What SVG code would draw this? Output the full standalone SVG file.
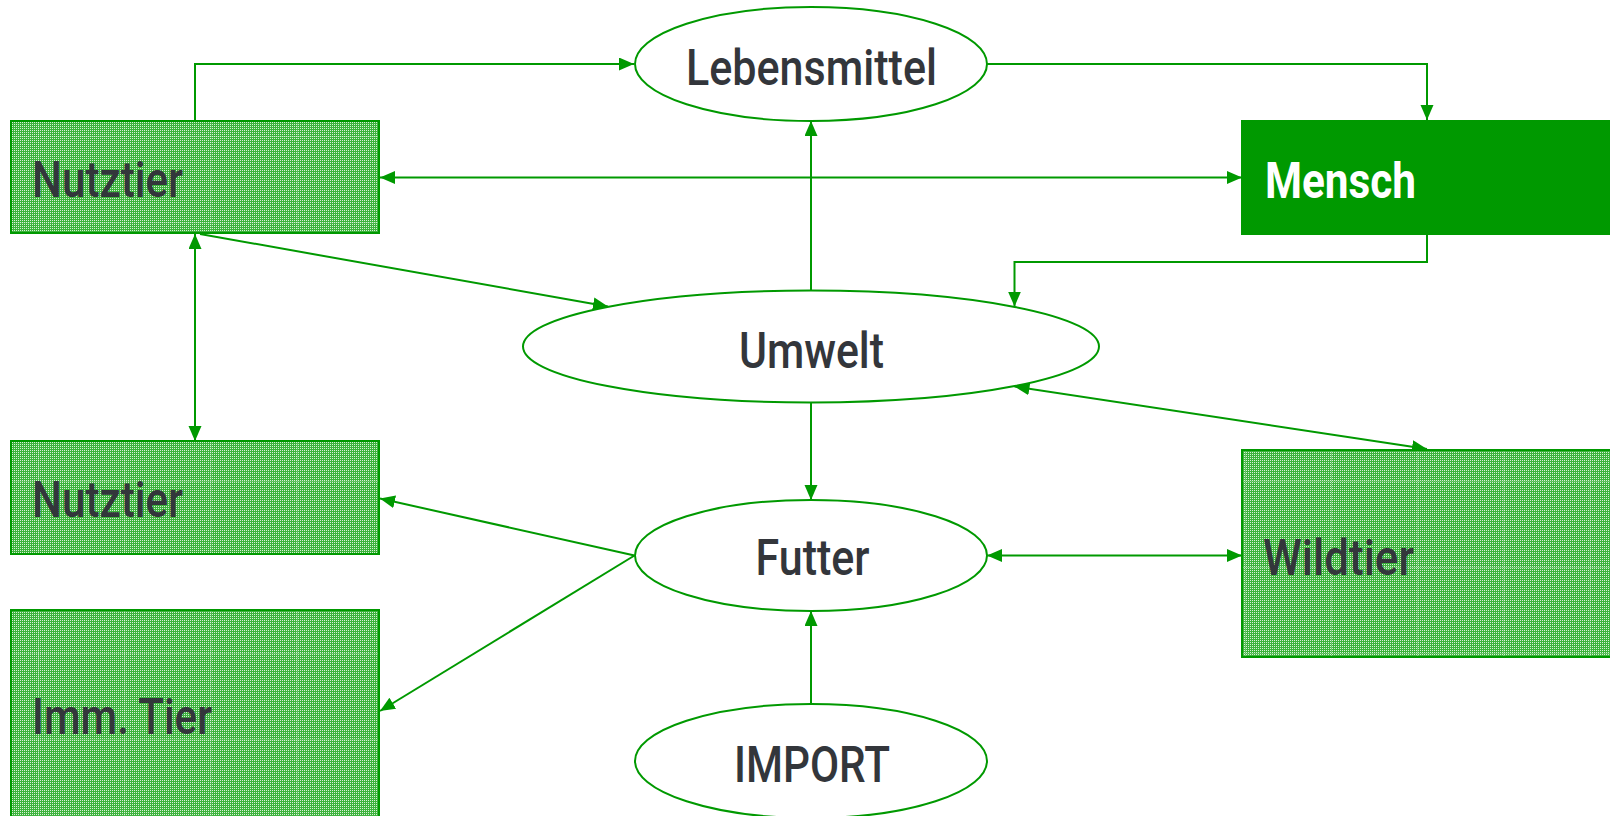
<svg xmlns="http://www.w3.org/2000/svg" width="1610" height="816" viewBox="0 0 1610 816">
  <style>
    .box { fill: url(#dots); stroke: #009900; stroke-width: 2; }
    .grid { fill: url(#seams); stroke: none; }
    .solid { fill: #009900; stroke: #009900; stroke-width: 2; }
    .oval { fill: #ffffff; stroke: #009900; stroke-width: 2; }
    .lbl { font-family: "Roboto", "Liberation Sans", sans-serif; font-size: 50px; font-weight: 500; fill: #33363b; }
    .mid { text-anchor: middle; }
    .light { fill: #ffffff; font-weight: 700; }
    .edge { fill: none; stroke: #009900; stroke-width: 2; }
  </style>
  <defs>
    <!-- fine two-tone dot screen used for the animal boxes -->
    <pattern id="dots" patternUnits="userSpaceOnUse" width="2" height="2">
      <rect width="2" height="2" fill="#3cb33c"/>
      <rect width="1" height="1" fill="#d6f0d6"/>
    </pattern>
    <!-- faint dotted seams repeating across the screen -->
    <pattern id="seams" patternUnits="userSpaceOnUse" x="38" y="136" width="86.2" height="86.2">
      <line x1="0.5" y1="0" x2="0.5" y2="86.2" stroke="#ffffff" stroke-opacity="0.45" stroke-width="1" stroke-dasharray="1 1"/>
      <line x1="0" y1="0.5" x2="86.2" y2="0.5" stroke="#ffffff" stroke-opacity="0.45" stroke-width="1" stroke-dasharray="1 1"/>
    </pattern>
    <marker id="head" markerUnits="userSpaceOnUse" markerWidth="16" markerHeight="14" refX="15" refY="6.5" orient="auto-start-reverse">
      <path d="M0,0 L15,6.5 L0,13 z" fill="#009900"/>
    </marker>
  </defs>

  <g id="connectors">
    <!-- Nutztier -> Lebensmittel -->
    <path class="edge" d="M195,121 V64 H634" marker-end="url(#head)"/>
    <!-- Lebensmittel -> Mensch -->
    <path class="edge" d="M987,64 H1427 V120" marker-end="url(#head)"/>
    <!-- Nutztier <-> Mensch -->
    <path class="edge" d="M380,177.5 H1242" marker-start="url(#head)" marker-end="url(#head)"/>
    <!-- Umwelt -> Lebensmittel -->
    <path class="edge" d="M811,290.5 V121" marker-end="url(#head)"/>
    <!-- Mensch -> Umwelt -->
    <path class="edge" d="M1427,234 V262 H1014.5 V306.5" marker-end="url(#head)"/>
    <!-- Nutztier -> Umwelt -->
    <path class="edge" d="M200,234 L608,306.5" marker-end="url(#head)"/>
    <!-- Nutztier <-> Nutztier -->
    <path class="edge" d="M195,234 V441" marker-start="url(#head)" marker-end="url(#head)"/>
    <!-- Umwelt <-> Wildtier -->
    <path class="edge" d="M1014.5,386.5 L1427,449" marker-start="url(#head)" marker-end="url(#head)"/>
    <!-- Umwelt -> Futter -->
    <path class="edge" d="M811,402.5 V500" marker-end="url(#head)"/>
    <!-- Futter -> Nutztier -->
    <path class="edge" d="M634.5,555.5 L380,498.5" marker-end="url(#head)"/>
    <!-- Futter -> Imm. Tier -->
    <path class="edge" d="M634.5,555.5 L380,711" marker-end="url(#head)"/>
    <!-- Futter <-> Wildtier -->
    <path class="edge" d="M987,555.5 H1242" marker-start="url(#head)" marker-end="url(#head)"/>
    <!-- IMPORT -> Futter -->
    <path class="edge" d="M811,704.5 V611" marker-end="url(#head)"/>
  </g>

  <g id="nutztier-top">
    <rect class="box" x="11" y="121" width="368" height="112"/>
    <rect class="grid" x="12" y="122" width="366" height="110"/>
    <text class="lbl" x="32" y="197" textLength="151" lengthAdjust="spacingAndGlyphs">Nutztier</text>
  </g>

  <g id="lebensmittel">
    <ellipse class="oval" cx="811" cy="64" rx="176" ry="57"/>
    <text class="lbl mid" x="811.5" y="85" textLength="251" lengthAdjust="spacingAndGlyphs">Lebensmittel</text>
  </g>

  <g id="mensch">
    <rect class="solid" x="1242" y="121" width="370" height="113"/>
    <text class="lbl light" x="1265" y="198" textLength="151" lengthAdjust="spacingAndGlyphs">Mensch</text>
  </g>

  <g id="umwelt">
    <ellipse class="oval" cx="811" cy="346.5" rx="288" ry="56"/>
    <text class="lbl mid" x="811.5" y="368" textLength="145" lengthAdjust="spacingAndGlyphs">Umwelt</text>
  </g>

  <g id="nutztier-bottom">
    <rect class="box" x="11" y="441" width="368" height="113"/>
    <rect class="grid" x="12" y="442" width="366" height="111"/>
    <text class="lbl" x="32" y="517" textLength="151" lengthAdjust="spacingAndGlyphs">Nutztier</text>
  </g>

  <g id="imm-tier">
    <rect class="box" x="11" y="610" width="368" height="210"/>
    <rect class="grid" x="12" y="611" width="366" height="209"/>
    <text class="lbl" x="32" y="734" textLength="180" lengthAdjust="spacingAndGlyphs">Imm. Tier</text>
  </g>

  <g id="futter">
    <ellipse class="oval" cx="811" cy="555.5" rx="176" ry="55.5"/>
    <text class="lbl mid" x="812.5" y="575" textLength="114" lengthAdjust="spacingAndGlyphs">Futter</text>
  </g>

  <g id="wildtier">
    <rect class="box" x="1242" y="450" width="370" height="207"/>
    <rect class="grid" x="1243" y="451" width="368" height="205"/>
    <text class="lbl" x="1263" y="575" textLength="151" lengthAdjust="spacingAndGlyphs">Wildtier</text>
  </g>

  <g id="import">
    <ellipse class="oval" cx="811" cy="761" rx="176" ry="57"/>
    <text class="lbl mid" x="812" y="782" textLength="156" lengthAdjust="spacingAndGlyphs">IMPORT</text>
  </g>
</svg>
